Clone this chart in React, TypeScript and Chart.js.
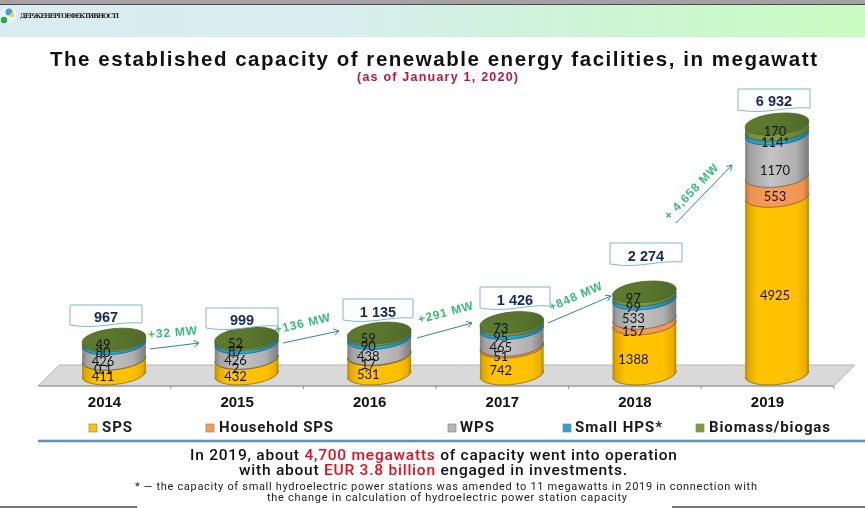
import React, { useEffect, useRef } from "react";
import { Chart, registerables } from "chart.js";

Chart.register(...registerables);

const years = ["2014", "2015", "2016", "2017", "2018", "2019"];
const sps = [411, 432, 531, 742, 1388, 4925];
const householdSps = [0.1, 2, 17, 51, 157, 553];
const wps = [426, 426, 438, 465, 533, 1170];
const smallHps = [80, 87, 90, 95, 99, 114];
const biomass = [49, 52, 59, 73, 97, 170];
const totalLabels = ["967", "999", "1 135", "1 426", "2 274", "6 932"];
const growthLabels = ["+32 MW", "+136 MW", "+291 MW", "+848 MW", "+ 4,658 MW"];
const seriesNames = ["SPS", "Household SPS", "WPS", "Small HPS*", "Biomass/biogas"];
const seriesColors = ["#ffc000", "#f79a55", "#b4b4b4", "#27a4d4", "#7d9a3f"];

const titleText = "The established capacity of renewable energy facilities, in megawatt";
const subtitleText = "(as of January 1, 2020)";
const agencyText = "ДЕРЖЕНЕРГОЕФЕКТИВНОСТІ";
const noteA = "* — the capacity of small hydroelectric power stations was amended to 11 megawatts in 2019 in connection with";
const noteB = "the change in calculation of hydroelectric power station capacity";

const BAR_SHIFT = 9.5;
const TILT = -0.105;
const RY = 10.5;

const BOXES = [
  [70, 305, 142, 326, 106, 318],
  [206, 308, 278, 329, 242, 321],
  [343, 299, 413, 321, 378, 313],
  [480, 287, 550, 309, 515, 301],
  [610, 243, 682, 265, 646, 257],
  [738, 89, 810, 111, 774, 102],
];
const ARROWS = [
  [150, 349, 199, 343, 173, 333, -5],
  [283, 343, 339, 331, 303, 324, -13],
  [417, 338, 472, 323, 446, 313, -15],
  [548, 323, 611, 296, 576, 297, -23],
  [676, 223, 732, 165, 692, 192, -46],
];
const LEGEND = [
  [89, 102, 132],
  [206, 219, 333],
  [448, 460, 494],
  [563, 575, 662],
  [696, 709, 830],
];

const GRADS: [number, string][][] = [
  [[0, "#b08600"], [0.05, "#e0a800"], [0.2, "#ffc400"], [0.8, "#ffc000"], [0.95, "#e8ae00"], [1, "#a87f00"]],
  [[0, "#b9703a"], [0.08, "#ec9250"], [0.4, "#f89c58"], [0.9, "#f2944f"], [1, "#b9703a"]],
  [[0, "#7f7f7f"], [0.08, "#a2a2a2"], [0.4, "#c4c4c4"], [0.8, "#afafaf"], [1, "#7a7a7a"]],
  [[0, "#17789c"], [0.08, "#229bc8"], [0.5, "#2babdc"], [1, "#17789c"]],
  [[0, "#5b7330"], [0.1, "#778f3e"], [0.5, "#819c42"], [1, "#5b7330"]],
];
const EDGE = ["#8a6a00", "#8c5a2a", "#6a6448", "#14688a", "#4c6126"];

function fitText(ctx: any, text: string, x0: number, x1: number, y: number, font: string, color: string) {
  ctx.save();
  ctx.font = font;
  ctx.letterSpacing = "0px";
  ctx.textAlign = "left";
  ctx.textBaseline = "middle";
  const w = ctx.measureText(text).width;
  ctx.letterSpacing = ((x1 - x0 - w) / Math.max(1, text.length - 1)).toFixed(3) + "px";
  ctx.fillStyle = color;
  ctx.fillText(text, x0, y);
  ctx.restore();
}

function fitRuns(ctx: any, runs: [string, string][], x0: number, x1: number, y: number, font: string) {
  ctx.save();
  ctx.font = font;
  ctx.letterSpacing = "0px";
  ctx.textAlign = "left";
  ctx.textBaseline = "middle";
  const all = runs.map((r) => r[0]).join("");
  const spacing = (x1 - x0 - ctx.measureText(all).width) / (all.length - 1);
  ctx.letterSpacing = spacing.toFixed(3) + "px";
  let x = x0;
  for (const [t, c] of runs) {
    ctx.fillStyle = c;
    ctx.fillText(t, x, y);
    x += ctx.measureText(t).width;
  }
  ctx.restore();
}

const scenePlugin: any = {
  id: "scene",
  beforeDraw(chart: any) {
    const { ctx, width, height, scales } = chart;
    ctx.save();
    ctx.fillStyle = "#ffffff";
    ctx.fillRect(0, 0, width, height);
    const band = ctx.createLinearGradient(0, 0, width, 0);
    band.addColorStop(0, "#d9ecf3");
    band.addColorStop(0.4, "#d8eeee");
    band.addColorStop(0.66, "#cef4d8");
    band.addColorStop(1, "#c9fcc0");
    ctx.fillStyle = band;
    ctx.fillRect(0, 4, width, 33);
    ctx.fillStyle = "#a6a1a4";
    ctx.fillRect(0, 0, width, 4);
    ctx.fillStyle = "#4a4a4a";
    ctx.fillRect(0, 4, width, 1);
    // emblem
    ctx.fillStyle = "#eef2f2";
    ctx.beginPath();
    ctx.arc(8, 15, 8.5, 0, Math.PI * 2);
    ctx.fill();
    ctx.fillStyle = "#3f9fd8";
    ctx.beginPath();
    ctx.arc(9, 12, 3.5, 0, Math.PI * 2);
    ctx.fill();
    ctx.fillStyle = "#f0d040";
    ctx.beginPath();
    ctx.arc(12, 15, 2.2, 0, Math.PI * 2);
    ctx.fill();
    ctx.fillStyle = "#2ea84a";
    ctx.beginPath();
    ctx.arc(4, 20, 3.2, 0, Math.PI * 2);
    ctx.fill();
    fitText(ctx, agencyText, 20, 119, 16, "bold 6.5px 'DejaVu Serif'", "#222222");

    // floor
    const x = scales.x;
    const step = x.getPixelForTick(1) - x.getPixelForTick(0);
    const left = x.getPixelForTick(0) - step / 2 - BAR_SHIFT;
    const right = x.getPixelForTick(years.length - 1) + step / 2 - BAR_SHIFT;
    const depth = 21;
    ctx.beginPath();
    ctx.moveTo(left, 386);
    ctx.lineTo(right, 386);
    ctx.lineTo(right + depth, 365);
    ctx.lineTo(left + depth, 365);
    ctx.closePath();
    ctx.fillStyle = "#d9d9d9";
    ctx.fill();
    ctx.strokeStyle = "#b5b5b5";
    ctx.lineWidth = 1;
    ctx.stroke();
    ctx.strokeStyle = "#8f8f8f";
    ctx.beginPath();
    ctx.moveTo(left, 386);
    ctx.lineTo(right, 386);
    for (let i = 0; i <= years.length; i++) {
      const tx = left + step * i;
      if (i > 0) {
        ctx.moveTo(tx, 386);
        ctx.lineTo(tx, 389);
      }
    }
    ctx.stroke();
    ctx.restore();
  },
  beforeDatasetDraw() {
    return false;
  },
  afterDatasetsDraw(chart: any) {
    const { ctx, width, data } = chart;
    ctx.save();
    const n = data.datasets.length;
    const metas = data.datasets.map((_: any, i: number) => chart.getDatasetMeta(i));
    const last = years.length - 1;
    years.forEach((_, c) => {
      for (let s = 0; s < n; s++) {
        const bar = metas[s].data[c].getProps(["x", "y", "base", "width"], true);
        const rx = bar.width / 2;
        const dx = rx * Math.cos(TILT);
        const dy = rx * Math.sin(TILT);
        const g = ctx.createLinearGradient(bar.x - rx, 0, bar.x + rx, 0);
        GRADS[s].forEach(([p, col]) => g.addColorStop(p, col));
        ctx.beginPath();
        ctx.moveTo(bar.x - dx, bar.y - dy);
        ctx.lineTo(bar.x - dx, bar.base - dy);
        ctx.ellipse(bar.x, bar.base, rx, RY, TILT, Math.PI, 0, true);
        ctx.lineTo(bar.x + dx, bar.y + dy);
        ctx.closePath();
        ctx.fillStyle = g;
        ctx.fill();
        ctx.beginPath();
        ctx.ellipse(bar.x, bar.base, rx, RY, TILT, Math.PI, 0, true);
        ctx.strokeStyle = EDGE[s];
        ctx.lineWidth = 0.8;
        ctx.stroke();
        if (s === n - 1) {
          const top = ctx.createLinearGradient(bar.x - rx, 0, bar.x + rx, 0);
          top.addColorStop(0, "#5e7a30");
          top.addColorStop(0.5, "#5a772e");
          top.addColorStop(1, "#4f6a28");
          ctx.beginPath();
          ctx.ellipse(bar.x, bar.y, rx, RY, TILT, 0, Math.PI * 2);
          ctx.fillStyle = top;
          ctx.fill();
          ctx.strokeStyle = "#4c6126";
          ctx.stroke();
        }
      }
    });
    // value labels
    ctx.font = "13px Lato";
    ctx.fillStyle = "#141414";
    ctx.textAlign = "center";
    ctx.textBaseline = "middle";
    for (let s = 0; s < n; s++) {
      years.forEach((_, c) => {
        const bar = metas[s].data[c].getProps(["x", "y", "base"], true);
        const raw = data.datasets[s].data[c];
        let label = String(raw).replace(".", ",");
        if (s === 3 && c === last) label += "*";
        const shiftX = c === last ? -2 : -11;
        let shiftY = s === n - 1 ? 5 : 10.5;
        if (s === 2 && c === last) shiftY = 16;
        ctx.fillText(label, bar.x + shiftX, (bar.y + bar.base) / 2 + shiftY);
      });
    }
    // total callouts
    totalLabels.forEach((label, i) => {
      const [l, t, r, b, tx, ty] = BOXES[i];
      ctx.beginPath();
      ctx.moveTo(l, t);
      ctx.lineTo(r, t);
      ctx.lineTo(r, b - 3);
      ctx.bezierCurveTo(r - (r - l) * 0.35, b - 5, l + (r - l) * 0.4, b + 4, l, b - 1);
      ctx.closePath();
      ctx.fillStyle = "#ffffff";
      ctx.fill();
      ctx.strokeStyle = "#7fb8c8";
      ctx.lineWidth = 1;
      ctx.stroke();
      ctx.font = "bold 14.5px 'Liberation Sans'";
      ctx.fillStyle = "#13285e";
      ctx.fillText(label, tx, ty);
    });
    // growth arrows
    growthLabels.forEach((label, i) => {
      const [x0, y0, x1, y1, tx, ty, deg] = ARROWS[i];
      const a = Math.atan2(y1 - y0, x1 - x0);
      ctx.strokeStyle = "#2f7fb4";
      ctx.lineWidth = 1;
      ctx.beginPath();
      ctx.moveTo(x0, y0);
      ctx.lineTo(x1, y1);
      ctx.moveTo(x1 - 6 * Math.cos(a - 0.55), y1 - 6 * Math.sin(a - 0.55));
      ctx.lineTo(x1, y1);
      ctx.lineTo(x1 - 6 * Math.cos(a + 0.55), y1 - 6 * Math.sin(a + 0.55));
      ctx.stroke();
      ctx.save();
      ctx.translate(tx, ty);
      ctx.rotate((deg * Math.PI) / 180);
      ctx.font = "bold 12px 'Liberation Sans'";
      ctx.letterSpacing = "0.8px";
      ctx.fillStyle = "#3ab87a";
      ctx.fillText(label, 0, 0);
      ctx.restore();
    });
    // heading
    fitText(ctx, titleText, 50, 817, 60, "bold 20.5px 'Liberation Sans'", "#111111");
    fitText(ctx, subtitleText, 357, 518, 78, "bold 12.5px 'Liberation Sans'", "#c0143c");
    // legend
    seriesNames.forEach((name, i) => {
      const [sw, x0, x1] = LEGEND[i];
      ctx.fillStyle = seriesColors[i];
      ctx.fillRect(sw, 424, 8, 8);
      ctx.strokeStyle = "#8a8a6a";
      ctx.lineWidth = 0.7;
      ctx.strokeRect(sw, 424, 8, 8);
      fitText(ctx, name, x0, x1, 428, "bold 15px Roboto", "#1a1a1a");
    });
    // divider
    ctx.fillStyle = "#cfdbe8";
    ctx.fillRect(38, 439, width - 38, 4);
    ctx.fillStyle = "#6b8fb6";
    ctx.fillRect(38, 440, width - 38, 2);
    // footer
    fitRuns(
      ctx,
      [
        ["In 2019, about ", "#111111"],
        ["4,700 megawatts", "#e0101c"],
        [" of capacity went into operation", "#111111"],
      ],
      190, 677, 456, "500 15.5px Roboto"
    );
    fitRuns(
      ctx,
      [
        ["with about ", "#111111"],
        ["EUR 3.8 billion", "#e0101c"],
        [" engaged in investments.", "#111111"],
      ],
      239, 627, 471, "500 15.5px Roboto"
    );
    fitText(ctx, noteA, 135, 757, 487, "11px Roboto", "#222222");
    fitText(ctx, noteB, 267, 627, 498, "11px Roboto", "#222222");
    ctx.fillStyle = "#777777";
    ctx.fillRect(0, 506, 137, 2);
    ctx.fillRect(672, 506, width - 672, 2);
    ctx.restore();
  },
};

export default function App() {
  const ref = useRef<HTMLCanvasElement>(null);
  useEffect(() => {
    const chart = new Chart(ref.current as HTMLCanvasElement, {
      type: "bar",
      data: {
        labels: years,
        datasets: [sps, householdSps, wps, smallHps, biomass].map((values, i) => ({
          label: seriesNames[i],
          data: values,
          backgroundColor: seriesColors[i],
        })),
      },
      options: {
        responsive: false,
        animation: false,
        layout: { padding: { top: 121.5, left: 47.7, right: 21.7, bottom: 0 } },
        datasets: { bar: { categoryPercentage: 1, barPercentage: 0.483 } },
        plugins: { legend: { display: false }, title: { display: false }, tooltip: { enabled: false } },
        scales: {
          x: {
            stacked: true,
            afterFit(scale: any) {
              scale.height = 134;
            },
            grid: { display: false },
            border: { display: false },
            ticks: {
              labelOffset: -BAR_SHIFT,
              padding: 12,
              color: "#111111",
              maxRotation: 0,
              font: { family: "'Liberation Sans'", size: 15, weight: "bold" },
            },
          },
          y: { stacked: true, display: false, min: 0, max: 7000 },
        },
      } as any,
      plugins: [scenePlugin],
    });
    return () => chart.destroy();
  }, []);
  return (
    <div style={{ position: "absolute", left: 0, top: 0, width: 865, height: 508, overflow: "hidden" }}>
      <canvas ref={ref} width={865} height={508} style={{ display: "block" }} />
    </div>
  );
}
